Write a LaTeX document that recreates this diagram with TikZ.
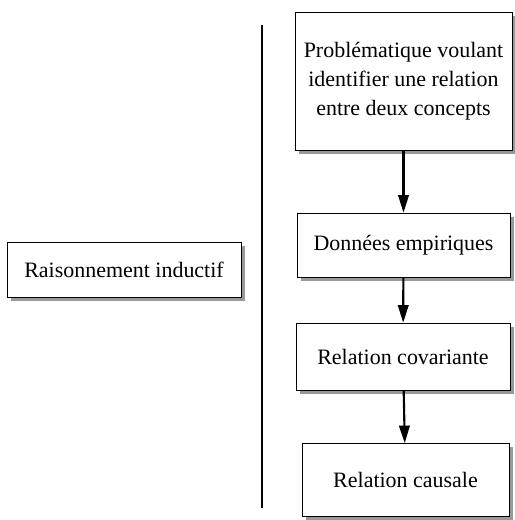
\documentclass[tikz,border=0pt]{standalone}
\usepackage{fontspec}
\setmainfont{Liberation Serif}
\usetikzlibrary{arrows.meta,shadows}

\tikzset{
    etape/.style={draw,thin,fill=white,align=center,inner sep=2pt,
        font=\fontsize{12.5}{16.5}\selectfont,
        drop shadow={shadow xshift=2.2pt,shadow yshift=-2.2pt,fill=gray!80,opacity=1}},
    fleche/.style={line width=1.2pt,-{Triangle[length=10pt,width=6pt]}}
}

\begin{document}
\begin{tikzpicture}[x=0.02cm,y=-0.02cm]
    \useasboundingbox (0,0) rectangle (514,520);

    % Left side
    \node[etape,minimum width=4.68cm,minimum height=1.10cm] (induc) at (124,269.5) {Raisonnement inductif};

    % Separator
    \coordinate (septop) at (262,25);
    \coordinate (sepbot) at (262,508);
    \draw[semithick] (septop) -- (sepbot);

    % Steps
    \node[etape,minimum width=4.34cm,minimum height=2.76cm] (probl) at (403.5,81)
        {Problématique voulant\\identifier une relation\\entre deux concepts};
    \node[etape,minimum width=4.26cm,minimum height=1.28cm] (donnees) at (403.5,245) {Données empiriques};
    \node[etape,minimum width=4.28cm,minimum height=1.34cm] (covar) at (403,356.5) {Relation covariante};
    \node[etape,minimum width=4.14cm,minimum height=1.46cm] (causal) at (405.5,480) {Relation causale};

    % Arrows
    \draw[fleche] (probl) -- (donnees);
    \draw[fleche] (donnees) -- (covar);
    \draw[fleche] (covar) -- (causal);
\end{tikzpicture}
\end{document}
